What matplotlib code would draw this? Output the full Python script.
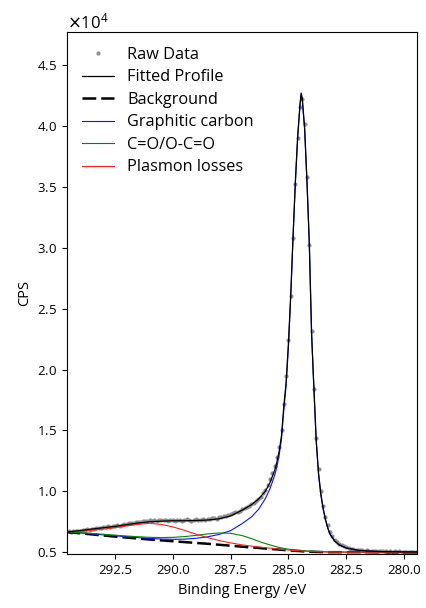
import numpy as np
import matplotlib
matplotlib.use("Agg")
import matplotlib.pyplot as plt

plt.rcParams['font.family'] = ['Open Sans', 'DejaVu Sans']

SCALE = 1e4  # values below are in units of 10^4 CPS

# raw spectrum, 294.5 -> 279.5 eV in 0.1 eV steps
raw_be = np.round(np.linspace(294.5, 279.5, 151), 1)
raw_cps = [
    0.672, 0.668, 0.675, 0.672, 0.678, 0.676, 0.684, 0.680, 0.688, 0.686,
    0.693, 0.690, 0.697, 0.700, 0.698, 0.706, 0.703, 0.712, 0.709, 0.716,
    0.714, 0.721, 0.718, 0.727, 0.731, 0.728, 0.736, 0.739, 0.742, 0.745,
    0.748, 0.751, 0.755, 0.752, 0.758, 0.761, 0.757, 0.764, 0.760, 0.766,
    0.762, 0.768, 0.765, 0.760, 0.767, 0.763, 0.758, 0.765, 0.768, 0.760,
    0.764, 0.770, 0.762, 0.758, 0.766, 0.771, 0.764, 0.768, 0.773, 0.766,
    0.775, 0.770, 0.778, 0.781, 0.776, 0.786, 0.789, 0.795, 0.798, 0.806,
    0.812, 0.818, 0.826, 0.833, 0.842, 0.852, 0.860, 0.872, 0.883, 0.897,
    0.905, 0.918, 0.935, 0.955, 0.985, 1.010, 1.050, 1.100, 1.150, 1.210,
    1.280, 1.360, 1.500, 1.720, 1.950, 2.240, 2.600, 3.080, 3.520, 3.900,
    4.160, 4.220, 4.020, 3.580, 3.020, 2.320, 1.840, 1.440, 1.180, 1.000,
    0.880, 0.790, 0.720, 0.665, 0.630, 0.600, 0.585, 0.570, 0.558, 0.550,
    0.542, 0.538, 0.530, 0.528, 0.522, 0.520, 0.516, 0.518, 0.512, 0.514,
    0.510, 0.512, 0.508, 0.510, 0.507, 0.509, 0.506, 0.508, 0.505, 0.507,
    0.504, 0.507, 0.503, 0.506, 0.504, 0.502, 0.505, 0.503, 0.501, 0.504,
    0.502,
]

# fitted curves
fit_be = [294.6, 294.0, 293.5, 293.0, 292.5, 292.0, 291.5, 291.0, 290.5, 290.0,
          289.5, 289.0, 288.5, 288.0, 287.5, 287.0, 286.6, 286.3, 286.0, 285.8,
          285.6, 285.5, 285.4, 285.3, 285.2, 285.1, 285.0, 284.9, 284.8, 284.7,
          284.6, 284.5, 284.45, 284.4, 284.3, 284.2, 284.1, 284.0, 283.9, 283.8,
          283.7, 283.6, 283.5, 283.4, 283.3, 283.2, 283.0, 282.8, 282.5, 282.0,
          281.5, 281.0, 280.0, 279.4]
fit_total = [0.665, 0.678, 0.690, 0.701, 0.712, 0.726, 0.740, 0.750, 0.755, 0.758,
             0.758, 0.760, 0.764, 0.774, 0.798, 0.845, 0.890, 0.935, 1.00, 1.07,
             1.17, 1.24, 1.33, 1.46, 1.70, 1.90, 2.22, 2.62, 3.10, 3.55,
             3.92, 4.18, 4.27, 4.22, 3.98, 3.55, 3.05, 2.30, 1.85, 1.42,
             1.15, 0.98, 0.86, 0.77, 0.70, 0.648, 0.592, 0.560, 0.535, 0.516,
             0.509, 0.505, 0.502, 0.501]
background = [0.665, 0.655, 0.646, 0.637, 0.628, 0.620, 0.612, 0.604, 0.597, 0.590,
              0.583, 0.576, 0.569, 0.561, 0.553, 0.545, 0.539, 0.535, 0.530, 0.527,
              0.524, 0.523, 0.521, 0.520, 0.518, 0.517, 0.515, 0.514, 0.512, 0.511,
              0.510, 0.509, 0.508, 0.507, 0.506, 0.505, 0.504, 0.503, 0.503, 0.502,
              0.502, 0.501, 0.501, 0.501, 0.500, 0.500, 0.500, 0.500, 0.500, 0.500,
              0.500, 0.500, 0.500, 0.500]
graphitic = [0.668, 0.658, 0.650, 0.642, 0.634, 0.627, 0.620, 0.613, 0.608, 0.606,
             0.607, 0.614, 0.626, 0.646, 0.677, 0.735, 0.790, 0.850, 0.940, 1.02,
             1.13, 1.20, 1.30, 1.43, 1.67, 1.87, 2.19, 2.61, 3.09, 3.54,
             3.91, 4.17, 4.26, 4.21, 3.97, 3.54, 3.04, 2.29, 1.84, 1.41,
             1.14, 0.970, 0.855, 0.765, 0.696, 0.645, 0.590, 0.558, 0.534, 0.515,
             0.508, 0.505, 0.502, 0.501]
carbonyl = [0.667, 0.660, 0.654, 0.647, 0.640, 0.633, 0.627, 0.622, 0.620, 0.622,
            0.628, 0.638, 0.650, 0.658, 0.655, 0.636, 0.612, 0.590, 0.571, 0.560,
            0.549, 0.544, 0.539, 0.535, 0.531, 0.528, 0.525, 0.522, 0.520, 0.518,
            0.516, 0.515, 0.514, 0.513, 0.512, 0.511, 0.510, 0.509, 0.508, 0.507,
            0.506, 0.505, 0.504, 0.504, 0.503, 0.503, 0.502, 0.502, 0.501, 0.501,
            0.500, 0.500, 0.500, 0.500]
plasmon = [0.667, 0.672, 0.680, 0.690, 0.702, 0.716, 0.729, 0.737, 0.728, 0.708,
           0.680, 0.648, 0.620, 0.596, 0.576, 0.560, 0.550, 0.543, 0.537, 0.533,
           0.529, 0.527, 0.525, 0.523, 0.521, 0.520, 0.518, 0.516, 0.514, 0.513,
           0.512, 0.511, 0.510, 0.509, 0.508, 0.507, 0.506, 0.505, 0.504, 0.504,
           0.503, 0.503, 0.502, 0.502, 0.501, 0.501, 0.501, 0.500, 0.500, 0.500,
           0.500, 0.500, 0.500, 0.500]

x_ticks = [292.5, 290.0, 287.5, 285.0, 282.5, 280.0]

fig = plt.figure(figsize=(4.26, 6.08), dpi=100)
ax = fig.add_axes([0.157, 0.088, 0.822, 0.859])

s = SCALE
ax.plot(raw_be, np.array(raw_cps) * s, 'o', ms=3.0, color='#8f8f8f',
        mec='none', label='Raw Data', zorder=2)
ax.plot(fit_be, np.array(fit_total) * s, '-', lw=0.9, color='black',
        label='Fitted Profile', zorder=4)
ax.plot(fit_be, np.array(background) * s, lw=1.8, color='black',
        linestyle=(0, (5.5, 2)), label='Background', zorder=2.5)
ax.plot(fit_be, np.array(graphitic) * s, lw=0.8, color='#1010ff',
        label='Graphitic carbon', zorder=3)
ax.plot(fit_be, np.array(carbonyl) * s, lw=0.8, color='#008800',
        label='C=O/O-C=O', zorder=3)
ax.plot(fit_be, np.array(plasmon) * s, lw=0.8, color='#ff2020',
        label='Plasmon losses', zorder=3)

ax.set_xlim(294.58, 279.44)
ax.set_ylim(0.481 * s, 4.77 * s)
ax.set_xticks(x_ticks)
ax.set_xticklabels([f'{v:.1f}' for v in x_ticks])
ax.set_yticks(np.arange(1, 10) * 0.5 * s)
ax.ticklabel_format(axis='y', style='sci', scilimits=(4, 4), useMathText=True)
ax.yaxis.get_offset_text().set_fontsize(12)
ax.tick_params(labelsize=9.5)

ax.set_xlabel('Binding Energy /eV', fontsize=10.5)
ax.set_ylabel('CPS', fontsize=10.5)

ax.legend(loc='upper left', frameon=False, fontsize=11.7, labelspacing=0.4,
          handlelength=2.0, handletextpad=0.8, markerscale=1.0)

fig.savefig('out.png', dpi=100)
